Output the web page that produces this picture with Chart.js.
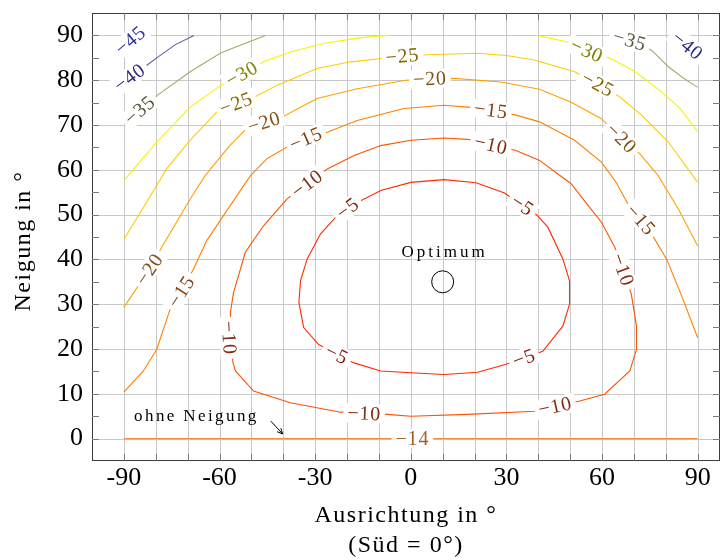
<!DOCTYPE html>
<html>
<head>
<meta charset="utf-8">
<script src="https://cdn.jsdelivr.net/npm/chart.js@4/dist/chart.umd.min.js"></script>
<style>
  html, body { margin: 0; padding: 0; background: #fff; }
  canvas { display: block; }
</style>
</head>
<body>
<canvas id="chart" width="721" height="560"></canvas>
<script>
// Axis ticks and grid positions (degrees)
const xTickValues = [-90, -60, -30, 0, 30, 60, 90];
const yTickValues = [0, 10, 20, 30, 40, 50, 60, 70, 80, 90];
const xGridValues = [-90, -80, -70, -60, -50, -40, -30, -20, -10, 0, 10, 20, 30, 40, 50, 60, 70, 80, 90];
const yMarkValues = [0, 5, 10, 15, 20, 25, 30, 35, 40, 45, 50, 55, 60, 65, 70, 75, 80, 85, 90];

// Iso-loss lines, points as [Ausrichtung, Neigung]; loss in percent
const isoM45 = [[-90, 87.6], [-86, 90]];
const isoM40a = [[-90, 79.6], [-86, 81.7], [-83.2, 83.1], [-79.5, 85.1], [-73.7, 88], [-68, 90]];
const isoM40b = [[82.5, 90], [90, 85.6]];
const isoM35a = [[-90, 70.2], [-80, 76.4], [-69.2, 81.9], [-59.8, 86], [-53.5, 87.8], [-45.6, 90]];
const isoM35b = [[63.5, 90], [70, 88.6], [75.5, 86.7], [80.8, 83], [85.5, 80.5], [90, 78.4]];
const isoM30a = [[-90, 57.6], [-79.7, 66.2], [-69.2, 74], [-60.3, 78.5], [-53, 81.4], [-46.2, 84.1],
                 [-37.8, 86.3], [-27.4, 88.2], [-17, 89.4], [-7.3, 90]];
const isoM30b = [[39.7, 90], [48.8, 88.6], [55.2, 86.6], [62.9, 84.8], [70.2, 82], [78.7, 77.4],
                 [84.6, 73.6], [90, 68.5]];
const isoM25 = [[-90, 44.5], [-84.3, 51.1], [-76.6, 60.2], [-69.2, 66.6], [-60.3, 73.3], [-54.8, 74.8],
                [-48.8, 76.3], [-41.9, 78.9], [-29.4, 82.6], [-18.9, 84.1], [-10, 84.8], [0, 85.5],
                [10, 85.8], [21, 86], [30, 85.5], [38.7, 84.5], [51.4, 81.9], [58.7, 79.1],
                [65.5, 76.3], [72.4, 72.2], [80.8, 66.2], [90, 57.2]];
const isoM20 = [[-90, 29.3], [-82, 37.8], [-78.1, 42.7], [-73.5, 48.3], [-69.2, 53.5], [-64.5, 58.7],
                [-56.8, 65.4], [-51.2, 69.4], [-46, 70.6], [-40.6, 71.7], [-29.4, 75.9], [-16.8, 78.1],
                [-1.6, 80], [6, 80.3], [13.6, 80.4], [28.3, 79.6], [40.4, 78], [50.3, 75.1],
                [59.8, 71.4], [66.1, 67], [71.8, 63.6], [77.6, 58.7], [83.9, 51.3], [90, 43]];
const isoM15 = [[-90, 10.4], [-83.9, 15.1], [-79.7, 19.9], [-75.5, 28.9], [-72, 32.8], [-68.2, 37.8],
                [-64, 44.2], [-57.5, 51.1], [-50.3, 58.7], [-45.1, 62.5], [-38.8, 65.1], [-32.9, 66.9],
                [-26.2, 68.4], [-16.8, 71], [-2.1, 73.7], [10.5, 74.4], [17.8, 74], [25.2, 73.3],
                [33, 72.2], [40.4, 70.7], [51.4, 66.6], [59.8, 61.7], [64.5, 57.1], [68.7, 51.6],
                [72.2, 48.8], [75, 46.3], [80.3, 40], [85, 31.8], [90, 22.5]];
const isoM10 = [[-38.8, 53.5], [-32.5, 56.9], [-26.2, 60.2], [-17.8, 63.2], [-9.4, 65.4], [0, 66.6],
                [10.5, 67.1], [17.8, 66.8], [25.2, 65.6], [33, 64.3], [40.4, 62.1], [50.3, 56.9],
                [54, 53.5], [59.8, 48.3], [64, 42.7], [66.5, 37.7], [69.2, 32.2], [70.8, 25.1],
                [70.8, 19.9], [68.7, 15.1], [60.8, 9.9], [53, 8.4], [45.3, 7.2], [38.8, 6.1],
                [17.8, 5.4], [0, 5], [-7.3, 5.4], [-14.6, 5.6], [-22, 5.9], [-37.8, 8], [-49.3, 10.6],
                [-55, 15.1], [-55.8, 17], [-56.6, 28.1], [-55.6, 32.6], [-51.9, 41.6], [-46.2, 47.5],
                [-38.8, 53.5]];
const isoM5 = [[-15.7, 53.1], [-9.4, 55.4], [0, 57.2], [10.5, 57.8], [20.5, 57.1], [29.4, 54.8],
               [35, 52.1], [39.3, 50.1], [43, 47.2], [47.7, 40.1], [49.8, 35.2], [49.8, 30],
               [47.7, 25.1], [41.4, 19.5], [35.5, 18], [29.9, 16.6], [21, 14.8], [10.5, 14.3],
               [0, 14.7], [-9.4, 15.1], [-17.8, 16.9], [-23.2, 18.8], [-28.9, 21], [-33.6, 24.8],
               [-35.1, 30.4], [-34.6, 35.2], [-32.5, 40.1], [-28.3, 45.7], [-23.6, 49.4], [-19.8, 51.4],
               [-15.7, 53.1]];
const isoFlat = [[-90, 0], [90, 0]];

// Where the level numbers sit on each line
const labelsM45 = [[-88, 88.9]];
const labelsM40a = [[-88.2, 80.6]];
const labelsM40b = [[86.8, 87.7]];
const labelsM35a = [[-85, 73.3]];
const labelsM35b = [[68.7, 88.9]];
const labelsM30a = [[-53, 81.4]];
const labelsM30b = [[55.2, 86.6]];
const labelsM25 = [[-54.8, 74.8], [-2.6, 85.4], [58.7, 79.1]];
const labelsM20 = [[-82, 37.8], [-46, 70.6], [6, 80.3], [66.1, 67]];
const labelsM15 = [[-72, 32.8], [-32.9, 66.9], [25.2, 73.3], [72.2, 48.8]];
const labelsM10 = [[-32.5, 56.9], [25.2, 65.6], [66.5, 37.7], [45.3, 7.2], [-14.6, 5.6], [-57, 22.5]];
const labelsM5 = [[-19.8, 51.4], [35, 52.1], [35.5, 18], [-23.2, 18.8]];
const labelsFlat = [[0.5, 0]];

// Best orientation and tilt
const optimum = [10, 35];

const contours = [
  { level: -45, path: isoM45,  labels: labelsM45,  line: '#5a5ab4', ink: '#2e2ea6' },
  { level: -40, path: isoM40a, labels: labelsM40a, line: '#5c5ca6', ink: '#2c2c7a' },
  { level: -40, path: isoM40b, labels: labelsM40b, line: '#5c5ca6', ink: '#2c2c7a' },
  { level: -35, path: isoM35a, labels: labelsM35a, line: '#a9a96a', ink: '#56563c' },
  { level: -35, path: isoM35b, labels: labelsM35b, line: '#a9a96a', ink: '#56563c' },
  { level: -30, path: isoM30a, labels: labelsM30a, line: '#f5f500', ink: '#808000' },
  { level: -30, path: isoM30b, labels: labelsM30b, line: '#f5f500', ink: '#808000' },
  { level: -25, path: isoM25,  labels: labelsM25,  line: '#ffcc00', ink: '#806500' },
  { level: -20, path: isoM20,  labels: labelsM20,  line: '#ffa200', ink: '#805014' },
  { level: -15, path: isoM15,  labels: labelsM15,  line: '#ff8000', ink: '#80400f' },
  { level: -10, path: isoM10,  labels: labelsM10,  line: '#ff5200', ink: '#802e10' },
  { level: -5,  path: isoM5,   labels: labelsM5,   line: '#ff2a00', ink: '#801e0a' },
  { level: -14, path: isoFlat, labels: labelsFlat, line: '#fa8a3c', ink: '#a0602a' }
];

const serif = '"Liberation Serif", "Times New Roman", serif';
Chart.defaults.font.family = serif;

const datasets = contours.map(c => ({
  data: c.path.map(([x, y]) => ({ x, y })),
  showLine: true,
  borderColor: c.line,
  borderWidth: 1.1,
  pointRadius: 0,
  tension: 0,
  fill: false
}));
datasets.push({
  data: [{ x: optimum[0], y: optimum[1] }],
  showLine: false,
  pointRadius: 11,
  pointBorderWidth: 1,
  pointBorderColor: '#000',
  pointBackgroundColor: 'rgba(0,0,0,0)'
});

function nearestSegmentAngle(pts, px, py) {
  let best = 0, bestD = Infinity;
  for (let i = 0; i < pts.length - 1; i++) {
    const [x1, y1] = pts[i], [x2, y2] = pts[i + 1];
    const dx = x2 - x1, dy = y2 - y1;
    const len2 = dx * dx + dy * dy || 1;
    let t = ((px - x1) * dx + (py - y1) * dy) / len2;
    t = Math.max(0, Math.min(1, t));
    const qx = x1 + t * dx - px, qy = y1 + t * dy - py;
    const d = qx * qx + qy * qy;
    if (d < bestD) { bestD = d; best = Math.atan2(dy, dx); }
  }
  if (best > Math.PI / 2 + 1e-6) best -= Math.PI;
  if (best <= -Math.PI / 2 + 1e-6) best += Math.PI;
  return best;
}

const decorations = {
  id: 'decorations',
  beforeDatasetsDraw(chart) {
    const { ctx, chartArea: a, scales: { x, y } } = chart;
    ctx.save();
    ctx.strokeStyle = '#c8c8c8';
    ctx.lineWidth = 1;
    ctx.beginPath();
    xGridValues.forEach(v => {
      const p = Math.round(x.getPixelForValue(v)) + 0.5;
      ctx.moveTo(p, a.top); ctx.lineTo(p, a.bottom);
    });
    yTickValues.forEach(v => {
      const p = Math.round(y.getPixelForValue(v)) + 0.5;
      ctx.moveTo(a.left, p); ctx.lineTo(a.right, p);
    });
    ctx.stroke();
    ctx.restore();
  },
  afterDatasetsDraw(chart) {
    const { ctx, chartArea: a, scales: { x, y } } = chart;
    ctx.save();

    // level numbers on the lines
    ctx.font = '20px ' + serif;
    ctx.letterSpacing = '0.8px';
    ctx.textAlign = 'center';
    ctx.textBaseline = 'middle';
    contours.forEach(c => {
      const pts = c.path.map(([vx, vy]) => [x.getPixelForValue(vx), y.getPixelForValue(vy)]);
      c.labels.forEach(([lx, ly]) => {
        const px = x.getPixelForValue(lx), py = y.getPixelForValue(ly);
        const ang = nearestSegmentAngle(pts, px, py);
        const text = '\u2212' + Math.abs(c.level);
        const w = ctx.measureText(text).width + 8;
        ctx.save();
        ctx.translate(px, py);
        ctx.rotate(ang);
        ctx.fillStyle = '#fff';
        ctx.fillRect(-w / 2, -9.5, w, 19);
        ctx.fillStyle = c.ink;
        ctx.fillText(text, 0, 1);
        ctx.restore();
      });
    });
    ctx.letterSpacing = '0px';

    // plot frame
    ctx.strokeStyle = '#3c3c3c';
    ctx.lineWidth = 1;
    ctx.strokeRect(a.left + 0.5, a.top + 0.5, a.right - a.left - 1, a.bottom - a.top - 1);

    // inward tick marks
    ctx.strokeStyle = '#7c7c7c';
    ctx.beginPath();
    xGridValues.forEach(v => {
      const p = Math.round(x.getPixelForValue(v)) + 0.5;
      ctx.moveTo(p, a.bottom); ctx.lineTo(p, a.bottom - 7);
      ctx.moveTo(p, a.top); ctx.lineTo(p, a.top + 7);
    });
    yMarkValues.forEach(v => {
      const p = Math.round(y.getPixelForValue(v)) + 0.5;
      ctx.moveTo(a.left, p); ctx.lineTo(a.left + 7, p);
      ctx.moveTo(a.right, p); ctx.lineTo(a.right - 7, p);
    });
    ctx.stroke();

    // notes inside the plot
    ctx.fillStyle = '#000';
    ctx.font = '17px ' + serif;
    ctx.letterSpacing = '3px';
    ctx.textAlign = 'center';
    ctx.textBaseline = 'alphabetic';
    ctx.fillText('Optimum', x.getPixelForValue(optimum[0]) + 2, y.getPixelForValue(optimum[1]) - 25);

    ctx.letterSpacing = '2.4px';
    ctx.textAlign = 'left';
    ctx.fillText('ohne Neigung', x.getPixelForValue(-86.8), y.getPixelForValue(3.9));
    ctx.letterSpacing = '0px';

    const ax0 = x.getPixelForValue(-43.9), ay0 = y.getPixelForValue(3.9);
    const ax1 = x.getPixelForValue(-40.2), ay1 = y.getPixelForValue(1.05);
    const ang = Math.atan2(ay1 - ay0, ax1 - ax0);
    ctx.strokeStyle = '#000';
    ctx.lineWidth = 1;
    ctx.beginPath();
    ctx.moveTo(ax0, ay0); ctx.lineTo(ax1, ay1);
    ctx.moveTo(ax1 - 6 * Math.cos(ang - 0.45), ay1 - 6 * Math.sin(ang - 0.45));
    ctx.lineTo(ax1, ay1);
    ctx.lineTo(ax1 - 6 * Math.cos(ang + 0.45), ay1 - 6 * Math.sin(ang + 0.45));
    ctx.stroke();

    // axis titles
    ctx.font = '24px ' + serif;
    ctx.letterSpacing = '1.5px';
    ctx.textAlign = 'center';
    ctx.textBaseline = 'alphabetic';
    const cx = (a.left + a.right) / 2;
    ctx.fillText('Ausrichtung in °', cx, chart.height - 38);
    ctx.fillText('(Süd = 0°)', cx, chart.height - 8);

    ctx.translate(24, 241);
    ctx.rotate(-Math.PI / 2);
    ctx.textBaseline = 'middle';
    ctx.fillText('Neigung in °', 0, 0);
    ctx.restore();
  }
};

new Chart(document.getElementById('chart'), {
  type: 'scatter',
  data: { datasets },
  options: {
    responsive: false,
    animation: false,
    layout: { autoPadding: false, padding: { top: 13, right: 1, left: 0, bottom: 0 } },
    plugins: { legend: { display: false }, tooltip: { enabled: false } },
    scales: {
      x: {
        type: 'linear', min: -100, max: 97,
        grid: { display: false, drawTicks: false },
        border: { display: false },
        afterBuildTicks: s => { s.ticks = xTickValues.map(v => ({ value: v })); },
        afterFit: s => { s.height = 99; s.paddingLeft = 0; s.paddingRight = 0; },
        ticks: { color: '#000', font: { size: 26 }, padding: 2, maxRotation: 0, autoSkip: false,
                 callback: v => String(v) }
      },
      y: {
        type: 'linear', min: -5, max: 95,
        grid: { display: false, drawTicks: false },
        border: { display: false },
        afterBuildTicks: s => { s.ticks = yTickValues.map(v => ({ value: v })); },
        afterFit: s => { s.width = 92; s.paddingTop = 0; s.paddingBottom = 0; },
        ticks: { color: '#000', font: { size: 26 }, padding: 9, autoSkip: false,
                 callback: v => String(v) }
      }
    }
  },
  plugins: [decorations]
});
</script>
</body>
</html>
